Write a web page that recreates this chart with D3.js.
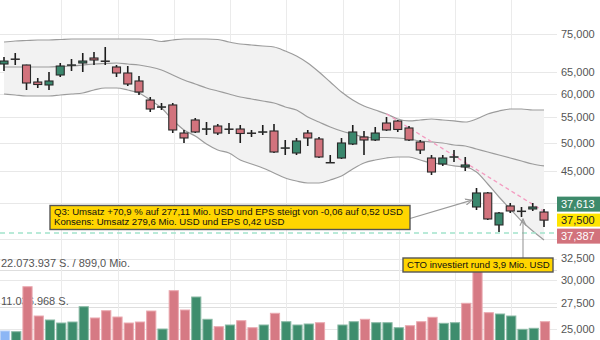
<!DOCTYPE html>
<html>
<head>
<meta charset="utf-8">
<script src="https://cdn.jsdelivr.net/npm/d3@7"></script>
<style>
  html, body { margin: 0; padding: 0; background: #fff; }
  svg { display: block; font-family: "Liberation Sans", Arial, sans-serif; }
</style>
</head>
<body>
<svg id="chart" width="600" height="340"></svg>
<script>
// Daily OHLC (USD), oldest first
const open  = [67070,68330,66820,62720,62030,64380,66820,67320,68590,67820,66330,64860,62960,58650,57150,57580,51870,54450,52650,53240,52650,52650,51870,52070,52260,49050,48150,51870,50730,46470,47260,49790,51110,50540,53840,54240,52850,50160,47260,46220,47440,45710,39380,41490,36830,39530,38760,39090,38650];
const high  = [68840,69870,66900,63660,65100,67320,68330,69870,70130,71450,66820,66570,64140,59320,58000,58000,52460,54850,54040,53640,53840,53440,52460,53440,53640,50540,50920,52460,51110,47790,50920,53440,52260,53040,55060,54450,53240,50540,47790,47790,48690,47440,42270,41640,38650,39970,39380,39970,39090];
const low   = [65350,66820,60880,61340,60880,63900,65350,65100,66820,66820,63900,61790,59760,56090,56510,51870,49980,51870,51490,51490,51680,49980,51110,51490,48150,47790,47790,49420,47260,46390,47090,49600,47790,50350,52260,52070,50350,47970,44360,45880,46560,45030,38940,37520,35880,38510,37940,38800,36550];
const close = [67820,68300,62490,62140,62960,66570,66850,67820,68080,67800,64860,62260,60430,56720,57180,52460,50920,52070,52680,51870,52620,51780,51840,52100,48330,49080,50350,50920,47440,46450,49980,52070,50540,51870,52460,52560,50540,48690,44860,47260,47470,46050,41490,37660,38510,38800,38780,39380,37500];

// Volume (shares) and its direction: 1 up, -1 down, 0 first day
const volume = [3880000,3670000,17090000,8350000,7160000,6260000,6560000,11130000,7760000,9930000,8050000,6260000,6560000,9840000,4470000,15900000,10140000,14020000,7370000,5160000,5670000,6950000,4860000,5670000,9160000,6650000,5670000,5970000,6350000,900000,5670000,6650000,7370000,6350000,6350000,4860000,5460000,6650000,7960000,6170000,6350000,12140000,22073937,9340000,8950000,8350000,4380000,4680000,6650000];
const volumeDir = [0,1,-1,-1,1,1,1,1,-1,-1,-1,-1,-1,-1,1,-1,-1,1,1,-1,1,-1,-1,1,-1,1,1,1,-1,-1,1,1,-1,1,1,1,-1,-1,-1,1,1,-1,-1,-1,1,1,1,1,-1];
const turnoverMio = 899.0;

// Bollinger bands
const bbUpper  = [72800,73070,73210,73340,73340,73480,73620,73620,73620,73620,73620,73620,73620,73480,72930,73340,73620,73620,73620,73480,72800,72260,71990,71720,71460,70400,69100,67320,65100,62720,60430,58660,57360,56510,55680,54650,54250,54450,54650,54450,54250,54040,54650,55680,56300,56720,56720,56510,56510];
const bbMiddle = [66330,66330,66330,66330,66330,66450,66580,66820,67070,67200,67320,67070,66820,66330,65590,64380,63190,62260,61340,60660,59980,59320,58880,58440,58010,57150,56510,55060,54040,53050,52260,51680,51110,51010,51010,50920,50730,50350,50170,49980,49610,49420,48870,48330,47790,47260,46740,46220,45880];
const bbLower  = [59980,59760,59540,59540,59540,59760,59980,60210,60880,61340,61340,60880,60210,58660,56940,54450,52460,51300,49790,48690,48150,46910,46220,45540,44700,43870,43380,43060,43060,43550,44200,45370,46390,46910,47260,47440,47440,46910,46390,46220,45880,45700,44860,42900,40870,39090,37380,36010,34830];

// Axis ticks, quotes, drawn levels
const priceTicks = [75000,65000,60000,55000,50000,45000,40000,35000,32500,30000,27500,25000];
const gridDays = [5,10,15,20,25,30,35,40,45];
const quotes = [
  {value: 37613, fill: "#3d8a6b", text: "#fff"},
  {value: 37500, fill: "#ffe500", text: "#222"},
  {value: 37387, fill: "#d2727c", text: "#fff"}
];
const supportLevel = 35750;
const trendLine = [{i: 34, price: 55700}, {i: 48.3, price: 38450}];
const notes = [
  {lines: ["Q3: Umsatz +70,9 % auf 277,11 Mio. USD und EPS steigt von -0,06 auf 0,52 USD",
           "Konsens: Umsatz 279,6 Mio. USD und EPS 0,42 USD"],
   day: 42, price: 40400},
  {lines: ["CTO investiert rund 3,9 Mio. USD"], day: 46}
];

const svg = d3.select("#chart");
const plotRight = 557;
const n = open.length;
const days = d3.range(n);

const x = d3.scaleLinear().domain([0, n - 1]).range([4, 544]);
const y = d3.scaleLog().domain([25000, 75000]).range([329, 34]);
const maxVol = d3.max(volume);
const yv = d3.scaleLinear().domain([0, maxVol]).range([344, 270]);

const fmtPrice = d3.format(",");
const de = d3.formatLocale({decimal: ",", thousands: ".", grouping: [3], currency: ["", ""]});
const fmtShares = de.format(",.0f");
const fmtMio = de.format(".1f");

// arrow marker
svg.append("defs").append("marker")
  .attr("id", "arrow").attr("viewBox", "0 0 8 8")
  .attr("refX", 7).attr("refY", 4)
  .attr("markerWidth", 7).attr("markerHeight", 7)
  .attr("orient", "auto")
  .append("path").attr("d", "M0,0.8 L7,4 L0,7.2").attr("fill", "none")
  .attr("stroke", "#9a9a9a").attr("stroke-width", 1.2);

// grid
const grid = svg.append("g");
grid.selectAll(".hg").data(priceTicks).join("line")
  .attr("x1", 0).attr("x2", plotRight)
  .attr("y1", d => Math.round(y(d)) + 0.5).attr("y2", d => Math.round(y(d)) + 0.5)
  .attr("stroke", "#e8e8e8");
grid.selectAll(".vg").data([maxVol, maxVol / 2]).join("line")
  .attr("x1", 0).attr("x2", plotRight)
  .attr("y1", d => Math.round(yv(d)) + 0.5).attr("y2", d => Math.round(yv(d)) + 0.5)
  .attr("stroke", "#dedede").attr("stroke-width", 1.2);
grid.selectAll(".xg").data(gridDays).join("line")
  .attr("x1", d => Math.round(x(d)) + 1.5).attr("x2", d => Math.round(x(d)) + 1.5)
  .attr("y1", 0).attr("y2", 340)
  .attr("stroke", "#ebebeb");

// Bollinger band
const curve = d3.curveMonotoneX;
svg.append("path").datum(days)
  .attr("d", d3.area().x(i => x(i)).y0(i => y(bbLower[i])).y1(i => y(bbUpper[i])).curve(curve))
  .attr("fill", "#f2f2f2");
[bbUpper, bbMiddle, bbLower].forEach(s => {
  svg.append("path").datum(days)
    .attr("d", d3.line().x(i => x(i)).y(i => y(s[i])).curve(curve))
    .attr("fill", "none").attr("stroke", "#9c9c9c").attr("stroke-width", 1.2);
});

// support level
svg.append("line")
  .attr("x1", 0).attr("x2", plotRight)
  .attr("y1", y(supportLevel)).attr("y2", y(supportLevel))
  .attr("stroke", "#a3e3cc").attr("stroke-width", 1.5).attr("stroke-dasharray", "5,4");

// down trend
svg.append("path").datum(trendLine)
  .attr("d", d3.line().x(d => x(d.i)).y(d => y(d.price)))
  .attr("stroke", "#f49bc0").attr("stroke-width", 1.3).attr("stroke-dasharray", "4,3");

// candles
const RED = "#d2737d", GREEN = "#3a876d";
const candles = svg.append("g");
days.forEach(i => {
  const cx = x(i);
  candles.append("line")
    .attr("x1", cx).attr("x2", cx).attr("y1", y(high[i])).attr("y2", y(low[i]))
    .attr("stroke", "#1c1c1c").attr("stroke-width", 1.6);
  const top = y(Math.max(open[i], close[i]));
  const h = Math.max(0.4, y(Math.min(open[i], close[i])) - top);
  candles.append("rect")
    .attr("x", cx - 4).attr("y", top).attr("width", 8).attr("height", h)
    .attr("fill", close[i] >= open[i] ? GREEN : RED)
    .attr("stroke", "#2a2a2a").attr("stroke-width", 1.1);
});

// volume captions (beneath bars)
const vcap = svg.append("g").attr("fill", "#555").attr("font-size", 11);
vcap.append("text").attr("x", 1).attr("y", yv(maxVol) - 6.5 + 3.9)
  .text(`${fmtShares(maxVol)} S. / ${fmtMio(turnoverMio)} Mio.`);
vcap.append("text").attr("x", 1).attr("y", yv(maxVol / 2) - 5.5 + 3.9)
  .text(`${fmtShares(Math.floor(maxVol / 2))} S.`);

// volume bars
const volFill = {"1": "#3e8d6d", "-1": "#d67a84", "0": "#8cb6f5"};
const volEdge = {"1": "#8ab9a5", "-1": "#eaa9b0", "0": "#b7d0f7"};
svg.append("g").selectAll("rect").data(days).join("rect")
  .attr("x", i => x(i) + 1 - 4.6).attr("width", 9.2)
  .attr("y", i => yv(volume[i])).attr("height", i => 344 - yv(volume[i]))
  .attr("fill", i => volFill[volumeDir[i]])
  .attr("stroke", i => volEdge[volumeDir[i]]).attr("stroke-width", 1);

// notes with pointers
const noteFont = 9.6;
const q3 = notes[0], cto = notes[1];
const q3Box = {x: 50, y: 205.5, w: 360, h: 24};
const ctoBox = {x: 403, y: 258, w: 150, h: 14};

svg.append("line")
  .attr("x1", q3Box.x + q3Box.w).attr("y1", q3Box.y + 13)
  .attr("x2", x(q3.day) - 4.5).attr("y2", y(q3.price))
  .attr("stroke", "#9a9a9a").attr("stroke-width", 1.1).attr("marker-end", "url(#arrow)");
svg.append("line")
  .attr("x1", x(cto.day) + 1.5).attr("y1", ctoBox.y)
  .attr("x2", x(cto.day) + 1.5).attr("y2", y(low[cto.day]) + 2)
  .attr("stroke", "#9a9a9a").attr("stroke-width", 1.1).attr("marker-end", "url(#arrow)");

function noteBox(box, lines) {
  const g = svg.append("g");
  g.append("rect").attr("x", box.x).attr("y", box.y).attr("width", box.w).attr("height", box.h)
    .attr("fill", "#ffd500").attr("stroke", "#555").attr("stroke-width", 1.4);
  lines.forEach((t, k) => {
    g.append("text").attr("x", box.x + 4).attr("y", box.y + 9.6 + k * 9.6)
      .attr("font-size", noteFont).attr("fill", "#111").text(t);
  });
}
noteBox(q3Box, q3.lines);
noteBox(ctoBox, cto.lines);

// quote boxes sit on the price axis; axis labels under them are left out
const yLast = y(quotes[1].value);
const qOffsets = [-16, 0, 16];
const qHeights = [15, 13, 15];
const qSpans = quotes.map((q, k) => [yLast + qOffsets[k] - qHeights[k] / 2, yLast + qOffsets[k] + qHeights[k] / 2]);
const covered = t => qSpans.some(([a, b]) => y(t) > a - 4 && y(t) < b + 4);

svg.append("g").selectAll("text").data(priceTicks.filter(t => !covered(t))).join("text")
  .attr("x", 561).attr("y", d => y(d)).attr("dy", "0.35em")
  .attr("font-size", 11).attr("fill", "#555").text(d => fmtPrice(d));

quotes.forEach((q, k) => {
  const cy = yLast + qOffsets[k];
  svg.append("rect").attr("x", 557).attr("y", qSpans[k][0])
    .attr("width", 43).attr("height", qHeights[k]).attr("fill", q.fill);
  svg.append("text").attr("x", 561).attr("y", cy).attr("dy", "0.35em")
    .attr("font-size", 11).attr("fill", q.text).text(fmtPrice(q.value));
});
</script>
</body>
</html>
